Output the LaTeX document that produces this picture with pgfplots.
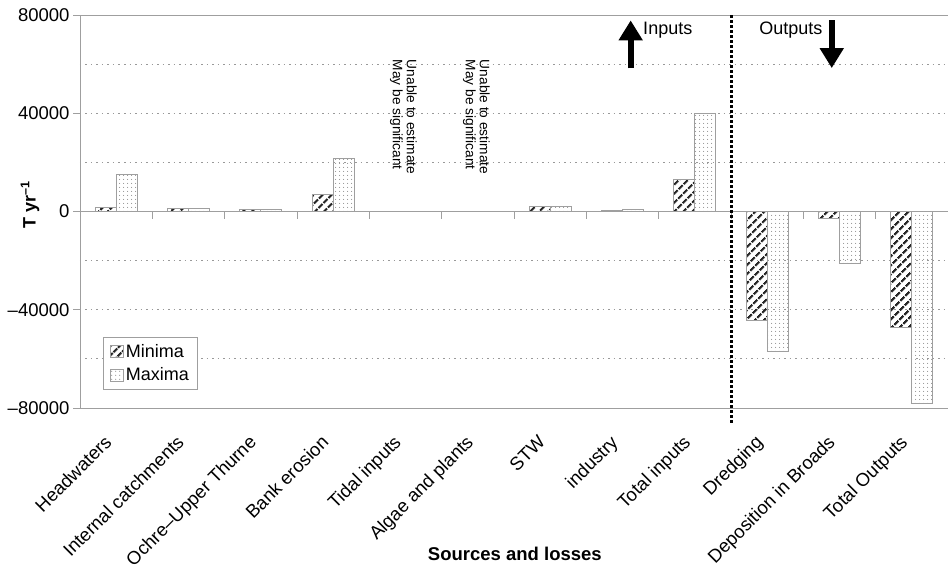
\documentclass[border=0pt]{standalone}
\usepackage{fontspec}
\setmainfont{Liberation Sans}
\usepackage{pgfplots}
\pgfplotsset{compat=1.18}
\usetikzlibrary{patterns.meta,arrows.meta}

\pgfplotstableread{
x y
0 1700
1 1350
2 900
3 7000
6 2000
7 300
8 13000
9 -44500
10 -3000
11 -47300
}\minima
\pgfplotstableread{
x y
0 15000
1 1350
2 900
3 21500
6 2000
7 900
8 40000
9 -57000
10 -21200
11 -78000
}\maxima

\begin{document}
\begin{tikzpicture}
\path (-80pt,-162pt) rectangle (871pt,408pt);
\begin{axis}[
  at={(0,0)}, anchor=south west,
  width=868pt, height=393pt, scale only axis,
  clip=false,
  xmin=-0.5, xmax=11.5, ymin=-80000, ymax=80000,
  scaled y ticks=false,
  axis x line=box, axis y line=left,
  axis line style={-, draw=gray!75, line width=0.9pt},
  xtick={0,...,11},
  xticklabels={Headwaters,Internal catchments,Ochre–Upper Thurne,Bank erosion,Tidal inputs,Algae and plants,STW,industry,Total inputs,Dredging,Deposition in Broads,Total Outputs},
  x tick style={draw=none},
  xticklabel style={xshift=-13pt, yshift=-14pt, rotate=45, anchor=north east, font=\fontsize{18.5}{20}\selectfont},
  ytick={-80000,-40000,0,40000,80000},
  yticklabels={–80000,–40000,0,40000,80000},
  minor ytick={-60000,-20000,20000,60000},
  ymajorgrids, yminorgrids,
  grid style={dash pattern=on 1.5pt off 4pt, gray!80, line width=0.9pt},
  minor grid style={dash pattern=on 1.5pt off 4pt, gray!80, line width=0.9pt},
  tick align=outside, major tick length=7pt, minor tick length=0pt,
  y tick style={draw=gray!75, line width=0.9pt},
  yticklabel style={font=\fontsize{18.5}{20}\selectfont},
  ylabel={\textbf{T yr\textsuperscript{–1}}},
  ylabel style={at={(axis description cs:-0.0576,0.516)}, anchor=center, font=\fontsize{18}{20}\selectfont},
  xlabel={\textbf{Sources and losses}},
  xlabel style={at={(axis description cs:0.501,-0.372)}, anchor=center, font=\fontsize{18.5}{20}\selectfont},
  legend style={at={(0.026,0.181)}, anchor=north west, draw=gray!75, line width=0.9pt,
    font=\fontsize{18}{20}\selectfont, row sep=5pt, inner xsep=7pt, inner ysep=5pt},
  legend cell align=left,
  legend image code/.code={\draw[#1, line width=0.9pt] (0pt,-6pt) rectangle (13pt,6pt);},
]
\addplot[ybar, bar width=21pt, bar shift=-10.5pt, draw=gray!75, line width=0.9pt,
  pattern={Lines[angle=45,distance=6.5pt,line width=2.6pt]}, pattern color=black!85]
  table[x=x,y=y]{\minima};
\addlegendentry{Minima}
\addplot[ybar, bar width=21pt, bar shift=10.5pt, draw=gray!75, line width=0.9pt,
  pattern={Dots[distance=4pt,radius=0.65pt]}, pattern color=gray!85]
  table[x=x,y=y]{\maxima};
\addlegendentry{Maxima}

% zero line and category separators
\draw[gray!75, line width=0.9pt] (axis cs:-0.5,0) -- (axis cs:11.5,0);
\pgfplotsinvokeforeach{0.5,1.5,...,10.5}{
  \draw[gray!75, line width=0.9pt] (axis cs:#1,0) -- ([yshift=-7pt]axis cs:#1,0);
}
% inputs/outputs divider
\draw[black, line width=3pt, dash pattern=on 2.5pt off 2.5pt] (axis cs:8.5,80000) -- (axis cs:8.5,-86000);
% arrows
\draw[black, line width=6pt, -{Triangle[width=23pt,length=20pt]}] (axis cs:7.113,58300) -- (axis cs:7.113,77800);
\draw[black, line width=6pt, -{Triangle[width=23pt,length=20pt]}] (axis cs:9.893,77800) -- (axis cs:9.893,58400);
\node[anchor=west, inner sep=0pt, font=\fontsize{18}{20}\selectfont] at (axis cs:7.284,74000) {Inputs};
\node[anchor=west, inner sep=0pt, font=\fontsize{18}{20}\selectfont] at (axis cs:8.888,74000) {Outputs};
% notes
\node[rotate=-90, anchor=west, align=left, inner sep=0pt, font=\fontsize{13.7}{14}\selectfont] at (axis cs:3.97,61800) {Unable to estimate\\May be significant};
\node[rotate=-90, anchor=west, align=left, inner sep=0pt, font=\fontsize{13.7}{14}\selectfont] at (axis cs:4.98,61800) {Unable to estimate\\May be significant};
\end{axis}
\end{tikzpicture}
\end{document}
